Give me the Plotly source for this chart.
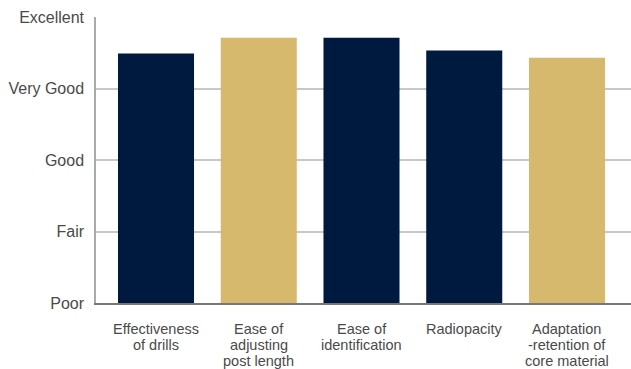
import plotly.graph_objects as go

# Survey ratings (1 = Poor ... 5 = Excellent)
categories = ["Effectiveness of drills", "Ease of adjusting post length",
              "Ease of identification", "Radiopacity",
              "Adaptation -retention of core material"]
label_lines = [["Effectiveness", "of drills"],
               ["Ease of", "adjusting", "post length"],
               ["Ease of", "identification"],
               ["Radiopacity"],
               ["Adaptation", "-retention of", "core material"]]
ratings = [4.49, 4.71, 4.71, 4.53, 4.43]
bar_colors = ["#001a3f", "#d6b96c", "#001a3f", "#001a3f", "#d6b96c"]
rating_values = [1, 2, 3, 4, 5]
rating_labels = ["Poor", "Fair", "Good", "Very Good", "Excellent"]

FONT = "Liberation Sans, Arial, Helvetica, sans-serif"
TEXT_COLOR = "#4a4a4a"

fig = go.Figure(go.Bar(
    x=list(range(len(categories))),
    y=[r - 1 for r in ratings],
    base=1,
    marker=dict(color=bar_colors, line=dict(width=0)),
    hovertext=categories,
    width=0.74,
))

annotations = []
for i, lines in enumerate(label_lines):
    for j, line in enumerate(lines):
        annotations.append(dict(
            x=i, y=0, xref="x", yref="paper",
            text=line, showarrow=False,
            xanchor="center", yanchor="top",
            yshift=-16 - j * 16,
            font=dict(family=FONT, size=14.5, color=TEXT_COLOR),
        ))

fig.update_layout(
    width=631, height=369,
    margin=dict(l=96, r=0, t=17, b=66),
    plot_bgcolor="white", paper_bgcolor="white",
    showlegend=False,
    annotations=annotations,
    xaxis=dict(
        range=[-0.584, 4.623],
        showticklabels=False, showgrid=False, zeroline=False,
        showline=True, linecolor="#777777", linewidth=1.5,
        ticks="",
    ),
    yaxis=dict(
        range=[1, 5],
        tickmode="array", tickvals=rating_values, ticktext=rating_labels,
        tickfont=dict(family=FONT, size=16, color=TEXT_COLOR),
        showgrid=True, gridcolor="#c8c8c8", gridwidth=1.5,
        zeroline=False,
        showline=True, linecolor="#aaaaaa", linewidth=1.5,
        ticks="outside", ticklen=7, tickcolor="rgba(0,0,0,0)",
    ),
)

fig.write_html("out.html")
